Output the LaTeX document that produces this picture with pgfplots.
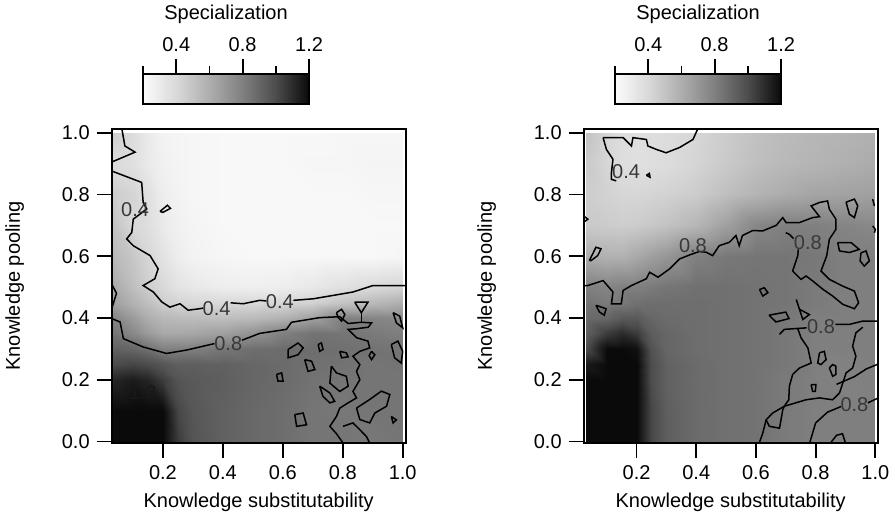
\documentclass[border=0pt]{standalone}
\usepackage{fontspec}
\setmainfont{Liberation Sans}
\usepackage{pgfplots}
\pgfplotsset{compat=1.18}

\tikzset{lab/.style={font=\normalsize, text=black!78, inner sep=0pt}}
\pgfplotsset{
  /pgf/number format/assume math mode=true,
  cnt/.style={black, line width=0.75pt, mark=none, forget plot},
  panel/.style={
    scale only axis, width=147pt, height=157pt,
    ymin=-0.005, ymax=1.012,
    axis on top,
    tick pos=left, tick align=outside, major tick length=7.5pt,
    xtick={0.2,0.4,0.6,0.8,1.0}, ytick={0,0.2,0.4,0.6,0.8,1.0},
    xticklabel style={/pgf/number format/.cd, fixed, fixed zerofill, precision=1},
    yticklabel style={/pgf/number format/.cd, fixed, fixed zerofill, precision=1},
    xlabel={Knowledge substitutability}, ylabel={Knowledge pooling},
    ylabel shift=12pt,
    axis line style={line width=1pt},
    every tick/.style={black, line width=0.9pt},
    colormap={spec}{gray(0cm)=(0.985) gray(0.2cm)=(0.85) gray(0.4cm)=(0.68) gray(0.6cm)=(0.5) gray(0.8cm)=(0.3) gray(1cm)=(0.04)},
    point meta min=0.2, point meta max=1.2,
    colorbar horizontal,
    colorbar style={
      at={(0.1066,1.0796)}, anchor=south west,
      scale only axis, width=83pt, height=15pt,
      xtick={0.4,0.8,1.2}, minor xtick={0.2,0.6,1.0},
      xtick pos=right, xticklabel pos=right,
      tick align=outside, major tick length=7.5pt, minor tick length=4pt,
      xticklabel style={/pgf/number format/.cd, fixed, fixed zerofill, precision=1},
      xlabel={Specialization},
      axis line style={line width=1pt},
      every tick/.style={black, line width=0.9pt},
    },
  },
}

\begin{document}
\begin{tikzpicture}
\useasboundingbox (-55.85pt,-38pt) rectangle (391.65pt,221.5pt);

% ---------------- left panel ----------------
\begin{axis}[panel, name=L, at={(0,0)}, anchor=south west, xmin=0.029, xmax=1.01]
\addplot[surf, shader=interp, mesh/cols=13, point meta=explicit]
  table[row sep=\\, meta=c] {
x y c\\
0.035 0 1.4\\ 0.1 0 1.4\\ 0.15 0 1.35\\ 0.2 0 1.25\\ 0.25 0 1.05\\ 0.3 0 0.97\\ 0.4 0 0.92\\ 0.5 0 0.89\\ 0.6 0 0.87\\ 0.7 0 0.84\\ 0.8 0 0.84\\ 0.9 0 0.83\\ 1.0 0 0.84\\
0.035 0.1 1.35\\ 0.1 0.1 1.35\\ 0.15 0.1 1.35\\ 0.2 0.1 1.22\\ 0.25 0.1 1.02\\ 0.3 0.1 0.96\\ 0.4 0.1 0.92\\ 0.5 0.1 0.89\\ 0.6 0.1 0.87\\ 0.7 0.1 0.84\\ 0.8 0.1 0.83\\ 0.9 0.1 0.84\\ 1.0 0.1 0.84\\
0.035 0.2 1.12\\ 0.1 0.2 1.15\\ 0.15 0.2 1.12\\ 0.2 0.2 1.05\\ 0.25 0.2 0.97\\ 0.3 0.2 0.95\\ 0.4 0.2 0.93\\ 0.5 0.2 0.9\\ 0.6 0.2 0.88\\ 0.7 0.2 0.85\\ 0.8 0.2 0.84\\ 0.9 0.2 0.84\\ 1.0 0.2 0.84\\
0.035 0.25 1.0\\ 0.1 0.25 1.02\\ 0.15 0.25 1.0\\ 0.2 0.25 0.96\\ 0.25 0.25 0.93\\ 0.3 0.25 0.93\\ 0.4 0.25 0.92\\ 0.5 0.25 0.9\\ 0.6 0.25 0.88\\ 0.7 0.25 0.86\\ 0.8 0.25 0.85\\ 0.9 0.25 0.84\\ 1.0 0.25 0.85\\
0.035 0.3 0.92\\ 0.1 0.3 0.9\\ 0.15 0.3 0.86\\ 0.2 0.3 0.8\\ 0.25 0.3 0.8\\ 0.3 0.3 0.8\\ 0.4 0.3 0.84\\ 0.5 0.3 0.87\\ 0.6 0.3 0.88\\ 0.7 0.3 0.87\\ 0.8 0.3 0.86\\ 0.9 0.3 0.85\\ 1.0 0.3 0.84\\
0.035 0.35 0.84\\ 0.1 0.35 0.76\\ 0.15 0.35 0.68\\ 0.2 0.35 0.62\\ 0.25 0.35 0.62\\ 0.3 0.35 0.63\\ 0.4 0.35 0.66\\ 0.5 0.35 0.72\\ 0.6 0.35 0.8\\ 0.7 0.35 0.85\\ 0.8 0.35 0.84\\ 0.9 0.35 0.82\\ 1.0 0.35 0.8\\
0.035 0.4 0.78\\ 0.1 0.4 0.68\\ 0.15 0.4 0.6\\ 0.2 0.4 0.55\\ 0.25 0.4 0.54\\ 0.3 0.4 0.53\\ 0.4 0.4 0.52\\ 0.5 0.4 0.54\\ 0.6 0.4 0.58\\ 0.7 0.4 0.66\\ 0.8 0.4 0.8\\ 0.9 0.4 0.78\\ 1.0 0.4 0.76\\
0.035 0.45 0.66\\ 0.1 0.45 0.58\\ 0.15 0.45 0.52\\ 0.2 0.45 0.45\\ 0.25 0.45 0.42\\ 0.3 0.45 0.41\\ 0.4 0.45 0.4\\ 0.5 0.45 0.4\\ 0.6 0.45 0.41\\ 0.7 0.45 0.44\\ 0.8 0.45 0.5\\ 0.9 0.45 0.55\\ 1.0 0.45 0.6\\
0.035 0.5 0.62\\ 0.1 0.5 0.52\\ 0.15 0.5 0.45\\ 0.2 0.5 0.4\\ 0.25 0.5 0.34\\ 0.3 0.5 0.31\\ 0.4 0.5 0.28\\ 0.5 0.5 0.27\\ 0.6 0.5 0.28\\ 0.7 0.5 0.31\\ 0.8 0.5 0.36\\ 0.9 0.5 0.39\\ 1.0 0.5 0.42\\
0.035 0.6 0.55\\ 0.1 0.6 0.48\\ 0.15 0.6 0.41\\ 0.2 0.6 0.34\\ 0.25 0.6 0.28\\ 0.3 0.6 0.25\\ 0.4 0.6 0.23\\ 0.5 0.6 0.22\\ 0.6 0.6 0.22\\ 0.7 0.6 0.22\\ 0.8 0.6 0.22\\ 0.9 0.6 0.22\\ 1.0 0.6 0.23\\
0.035 0.7 0.5\\ 0.1 0.7 0.4\\ 0.15 0.7 0.37\\ 0.2 0.7 0.3\\ 0.25 0.7 0.26\\ 0.3 0.7 0.24\\ 0.4 0.7 0.22\\ 0.5 0.7 0.22\\ 0.6 0.7 0.22\\ 0.7 0.7 0.22\\ 0.8 0.7 0.22\\ 0.9 0.7 0.22\\ 1.0 0.7 0.22\\
0.035 0.8 0.46\\ 0.1 0.8 0.42\\ 0.15 0.8 0.36\\ 0.2 0.8 0.28\\ 0.25 0.8 0.25\\ 0.3 0.8 0.23\\ 0.4 0.8 0.22\\ 0.5 0.8 0.22\\ 0.6 0.8 0.22\\ 0.7 0.8 0.22\\ 0.8 0.8 0.22\\ 0.9 0.8 0.23\\ 1.0 0.8 0.23\\
0.035 0.9 0.38\\ 0.1 0.9 0.36\\ 0.15 0.9 0.3\\ 0.2 0.9 0.26\\ 0.25 0.9 0.24\\ 0.3 0.9 0.23\\ 0.4 0.9 0.22\\ 0.5 0.9 0.22\\ 0.6 0.9 0.22\\ 0.7 0.9 0.23\\ 0.8 0.9 0.23\\ 0.9 0.9 0.24\\ 1.0 0.9 0.24\\
0.035 1.0 0.45\\ 0.1 1.0 0.38\\ 0.15 1.0 0.3\\ 0.2 1.0 0.25\\ 0.25 1.0 0.24\\ 0.3 1.0 0.23\\ 0.4 1.0 0.22\\ 0.5 1.0 0.22\\ 0.6 1.0 0.22\\ 0.7 1.0 0.22\\ 0.8 1.0 0.23\\ 0.9 1.0 0.23\\ 1.0 1.0 0.23\\
};
% contour 0.4
\addplot[cnt] coordinates {(0.029,0.876)(0.129,0.839)(0.134,0.774)(0.146,0.753)(0.101,0.720)(0.096,0.677)(0.079,0.656)(0.101,0.634)(0.157,0.602)(0.184,0.559)(0.173,0.527)(0.134,0.505)(0.168,0.484)(0.196,0.452)(0.223,0.435)(0.257,0.446)(0.284,0.425)(0.323,0.430)(0.334,0.432)};
\addplot[cnt] coordinates {(0.426,0.449)(0.468,0.446)(0.523,0.457)(0.545,0.455)};
\addplot[cnt] coordinates {(0.635,0.457)(0.701,0.462)(0.768,0.473)(0.834,0.484)(0.901,0.505)(1.01,0.505)};
\addplot[cnt] coordinates {(0.063,1.012)(0.073,0.957)(0.107,0.937)(0.029,0.905)};
\addplot[cnt] coordinates {(0.029,0.51)(0.045,0.48)(0.029,0.43)};
\addplot[cnt] coordinates {(0.19,0.745)(0.215,0.765)(0.225,0.755)(0.20,0.742)(0.19,0.745)};
% contour 0.8
\addplot[cnt] coordinates {(0.029,0.398)(0.057,0.387)(0.068,0.333)(0.134,0.306)(0.212,0.285)(0.279,0.296)(0.372,0.317)};
\addplot[cnt] coordinates {(0.464,0.328)(0.523,0.350)(0.612,0.363)(0.629,0.386)(0.723,0.401)(0.790,0.404)(0.818,0.382)(0.862,0.386)(0.896,0.384)(0.885,0.370)(0.845,0.365)(0.818,0.363)(0.846,0.336)(0.884,0.325)(0.890,0.303)(0.857,0.292)(0.834,0.276)(0.857,0.249)(0.846,0.227)(0.857,0.200)(0.834,0.162)(0.846,0.141)(0.818,0.125)(0.790,0.108)(0.779,0.081)(0.757,0.049)(0.779,0.025)(0.801,-0.005)};
\addplot[cnt] coordinates {(0.840,0.451)(0.884,0.451)(0.862,0.417)(0.840,0.451)};
\addplot[cnt] coordinates {(0.862,0.417)(0.862,0.386)};
\addplot[cnt] coordinates {(0.779,0.417)(0.796,0.428)(0.807,0.411)(0.796,0.390)(0.785,0.401)(0.779,0.417)};
\addplot[cnt] coordinates {(0.968,0.417)(0.990,0.406)(1.0,0.368)(0.979,0.384)(0.968,0.417)};
\addplot[cnt] coordinates {(0.962,0.314)(0.984,0.325)(1.0,0.292)(0.995,0.254)(0.973,0.271)(0.962,0.314)};
\addplot[cnt] coordinates {(0.618,0.298)(0.651,0.319)(0.668,0.303)(0.651,0.281)(0.618,0.271)(0.618,0.298)};
\addplot[cnt] coordinates {(0.718,0.314)(0.729,0.319)(0.734,0.298)(0.723,0.292)(0.718,0.314)};
\addplot[cnt] coordinates {(0.790,0.292)(0.812,0.287)(0.818,0.274)(0.796,0.271)(0.790,0.292)};
\addplot[cnt] coordinates {(0.896,0.292)(0.907,0.281)(0.896,0.265)(0.888,0.278)(0.896,0.292)};
\addplot[cnt] coordinates {(0.673,0.265)(0.696,0.260)(0.707,0.233)(0.684,0.227)(0.673,0.265)};
\addplot[cnt] coordinates {(0.762,0.244)(0.779,0.222)(0.812,0.211)(0.818,0.179)(0.790,0.162)(0.757,0.189)(0.762,0.244)};
\addplot[cnt] coordinates {(0.579,0.217)(0.596,0.222)(0.601,0.195)(0.584,0.195)(0.579,0.217)};
\addplot[cnt] coordinates {(0.723,0.179)(0.757,0.157)(0.773,0.130)(0.757,0.125)(0.734,0.146)(0.723,0.179)};
\addplot[cnt] coordinates {(0.640,0.087)(0.668,0.092)(0.679,0.054)(0.646,0.049)(0.640,0.087)};
\addplot[cnt] coordinates {(0.846,0.108)(0.890,0.136)(0.929,0.163)(0.957,0.152)(0.946,0.114)(0.907,0.092)(0.890,0.060)(0.857,0.071)(0.846,0.108)};
\addplot[cnt] coordinates {(0.962,0.081)(0.979,0.070)(0.968,0.060)(0.962,0.081)};
\addplot[cnt] coordinates {(0.801,0.049)(0.834,0.060)(0.857,0.038)(0.879,0.016)(0.890,-0.005)};
\node[lab] at (axis cs:0.107,0.752) {0.4};
\node[lab] at (axis cs:0.379,0.430) {0.4};
\node[lab] at (axis cs:0.590,0.452) {0.4};
\node[lab] at (axis cs:0.418,0.317) {0.8};
\node[lab, text=black!90] at (axis cs:0.133,0.158) {1.2};
\end{axis}

% ---------------- right panel ----------------
\begin{axis}[panel, name=R, at={(236pt,0)}, anchor=south west, xmin=0.023, xmax=1.008]
\addplot[surf, shader=interp, mesh/cols=13, point meta=explicit]
  table[row sep=\\, meta=c] {
x y c\\
0.03 0 1.4\\ 0.1 0 1.45\\ 0.15 0 1.45\\ 0.2 0 1.3\\ 0.25 0 1.02\\ 0.3 0 0.93\\ 0.4 0 0.88\\ 0.5 0 0.86\\ 0.6 0 0.85\\ 0.7 0 0.82\\ 0.8 0 0.8\\ 0.9 0 0.8\\ 0.998 0 0.8\\
0.03 0.1 1.35\\ 0.1 0.1 1.45\\ 0.15 0.1 1.45\\ 0.2 0.1 1.3\\ 0.25 0.1 1.02\\ 0.3 0.1 0.93\\ 0.4 0.1 0.88\\ 0.5 0.1 0.86\\ 0.6 0.1 0.85\\ 0.7 0.1 0.82\\ 0.8 0.1 0.8\\ 0.9 0.1 0.8\\ 0.998 0.1 0.8\\
0.03 0.2 1.25\\ 0.1 0.2 1.4\\ 0.15 0.2 1.4\\ 0.2 0.2 1.25\\ 0.25 0.2 1.0\\ 0.3 0.2 0.92\\ 0.4 0.2 0.88\\ 0.5 0.2 0.86\\ 0.6 0.2 0.85\\ 0.7 0.2 0.82\\ 0.8 0.2 0.8\\ 0.9 0.2 0.79\\ 0.998 0.2 0.8\\
0.03 0.25 1.15\\ 0.1 0.25 1.3\\ 0.15 0.25 1.35\\ 0.2 0.25 1.22\\ 0.25 0.25 1.0\\ 0.3 0.25 0.92\\ 0.4 0.25 0.88\\ 0.5 0.25 0.86\\ 0.6 0.25 0.85\\ 0.7 0.25 0.83\\ 0.8 0.25 0.8\\ 0.9 0.25 0.79\\ 0.998 0.25 0.8\\
0.03 0.3 1.0\\ 0.1 0.3 1.2\\ 0.15 0.3 1.25\\ 0.2 0.3 1.18\\ 0.25 0.3 0.98\\ 0.3 0.3 0.9\\ 0.4 0.3 0.87\\ 0.5 0.3 0.86\\ 0.6 0.3 0.85\\ 0.7 0.3 0.83\\ 0.8 0.3 0.8\\ 0.9 0.3 0.8\\ 0.998 0.3 0.8\\
0.03 0.35 0.92\\ 0.1 0.35 1.05\\ 0.15 0.35 1.1\\ 0.2 0.35 1.05\\ 0.25 0.35 0.94\\ 0.3 0.35 0.9\\ 0.4 0.35 0.87\\ 0.5 0.35 0.86\\ 0.6 0.35 0.85\\ 0.7 0.35 0.83\\ 0.8 0.35 0.8\\ 0.9 0.35 0.8\\ 0.998 0.35 0.8\\
0.03 0.4 0.88\\ 0.1 0.4 0.9\\ 0.15 0.4 0.95\\ 0.2 0.4 0.95\\ 0.25 0.4 0.9\\ 0.3 0.4 0.88\\ 0.4 0.4 0.87\\ 0.5 0.4 0.86\\ 0.6 0.4 0.85\\ 0.7 0.4 0.83\\ 0.8 0.4 0.8\\ 0.9 0.4 0.8\\ 0.998 0.4 0.8\\
0.03 0.45 0.85\\ 0.1 0.45 0.82\\ 0.15 0.45 0.83\\ 0.2 0.45 0.86\\ 0.25 0.45 0.87\\ 0.3 0.45 0.87\\ 0.4 0.45 0.87\\ 0.5 0.45 0.86\\ 0.6 0.45 0.85\\ 0.7 0.45 0.84\\ 0.8 0.45 0.82\\ 0.9 0.45 0.8\\ 0.998 0.45 0.8\\
0.03 0.5 0.8\\ 0.1 0.5 0.78\\ 0.15 0.5 0.8\\ 0.2 0.5 0.8\\ 0.25 0.5 0.82\\ 0.3 0.5 0.84\\ 0.4 0.5 0.86\\ 0.5 0.5 0.86\\ 0.6 0.5 0.85\\ 0.7 0.5 0.84\\ 0.8 0.5 0.82\\ 0.9 0.5 0.8\\ 0.998 0.5 0.8\\
0.03 0.6 0.6\\ 0.1 0.6 0.58\\ 0.15 0.6 0.58\\ 0.2 0.6 0.62\\ 0.25 0.6 0.66\\ 0.3 0.6 0.7\\ 0.4 0.6 0.8\\ 0.5 0.6 0.83\\ 0.6 0.6 0.84\\ 0.7 0.6 0.84\\ 0.8 0.6 0.83\\ 0.9 0.6 0.8\\ 0.998 0.6 0.8\\
0.03 0.7 0.47\\ 0.1 0.7 0.46\\ 0.15 0.7 0.45\\ 0.2 0.7 0.46\\ 0.25 0.7 0.48\\ 0.3 0.7 0.5\\ 0.4 0.7 0.56\\ 0.5 0.7 0.66\\ 0.6 0.7 0.77\\ 0.7 0.7 0.8\\ 0.8 0.7 0.8\\ 0.9 0.7 0.78\\ 0.998 0.7 0.76\\
0.03 0.8 0.45\\ 0.1 0.8 0.43\\ 0.15 0.8 0.41\\ 0.2 0.8 0.41\\ 0.25 0.8 0.42\\ 0.3 0.8 0.43\\ 0.4 0.8 0.46\\ 0.5 0.8 0.52\\ 0.6 0.8 0.57\\ 0.7 0.8 0.61\\ 0.8 0.8 0.64\\ 0.9 0.8 0.65\\ 0.998 0.8 0.66\\
0.03 0.9 0.47\\ 0.1 0.9 0.41\\ 0.15 0.9 0.37\\ 0.2 0.9 0.36\\ 0.25 0.9 0.37\\ 0.3 0.9 0.38\\ 0.4 0.9 0.42\\ 0.5 0.9 0.47\\ 0.6 0.9 0.52\\ 0.7 0.9 0.55\\ 0.8 0.9 0.57\\ 0.9 0.9 0.59\\ 0.998 0.9 0.61\\
0.03 1.0 0.5\\ 0.1 1.0 0.42\\ 0.15 1.0 0.38\\ 0.2 1.0 0.36\\ 0.25 1.0 0.37\\ 0.3 1.0 0.38\\ 0.4 1.0 0.41\\ 0.5 1.0 0.46\\ 0.6 1.0 0.51\\ 0.7 1.0 0.54\\ 0.8 1.0 0.56\\ 0.9 1.0 0.57\\ 0.998 1.0 0.59\\
};
% contour 0.4
\addplot[cnt] coordinates {(0.088,0.984)(0.155,0.984)(0.183,0.957)(0.188,0.984)(0.233,0.978)(0.238,0.957)(0.266,0.946)(0.299,0.935)(0.344,0.952)(0.389,0.978)(0.405,1.012)};
\addplot[cnt] coordinates {(0.088,0.984)(0.099,0.946)(0.121,0.914)(0.116,0.871)(0.116,0.849)(0.132,0.844)};
\addplot[cnt] coordinates {(0.233,0.862)(0.243,0.868)(0.245,0.856)(0.233,0.862)};
% contour 0.8
\addplot[cnt] coordinates {(0.023,0.505)(0.037,0.505)(0.088,0.521)(0.121,0.484)(0.116,0.446)(0.149,0.446)(0.155,0.489)(0.183,0.505)(0.233,0.527)(0.244,0.548)(0.272,0.532)(0.311,0.559)(0.344,0.591)(0.380,0.605)(0.410,0.615)(0.433,0.613)(0.455,0.602)(0.477,0.634)(0.511,0.645)(0.533,0.667)(0.544,0.634)(0.555,0.667)(0.589,0.683)(0.623,0.682)(0.668,0.700)(0.690,0.725)(0.701,0.709)(0.746,0.709)(0.790,0.725)(0.813,0.728)(0.785,0.763)(0.813,0.774)(0.840,0.779)(0.846,0.752)(0.868,0.720)(0.868,0.687)(0.846,0.655)(0.837,0.601)(0.818,0.552)(0.846,0.525)(0.891,0.503)(0.930,0.487)(0.944,0.449)(0.930,0.430)(0.891,0.444)(0.857,0.471)(0.824,0.493)(0.790,0.520)(0.768,0.536)(0.751,0.525)(0.723,0.552)(0.740,0.601)(0.742,0.622)};
\addplot[cnt] coordinates {(0.700,0.676)(0.712,0.671)(0.726,0.657)};
\addplot[cnt] coordinates {(0.902,0.775)(0.930,0.785)(0.941,0.763)(0.930,0.725)(0.913,0.736)(0.902,0.775)};
\addplot[cnt] coordinates {(0.874,0.644)(0.919,0.644)(0.946,0.622)(0.913,0.612)(0.880,0.617)(0.874,0.644)};
\addplot[cnt] coordinates {(0.952,0.611)(0.969,0.617)(0.980,0.585)(0.963,0.568)(0.949,0.585)(0.952,0.611)};
\addplot[cnt] coordinates {(0.612,0.492)(0.628,0.498)(0.640,0.482)(0.623,0.471)(0.612,0.492)};
\addplot[cnt] coordinates {(0.644,0.409)(0.700,0.419)(0.711,0.398)(0.667,0.387)(0.644,0.409)};
\addplot[cnt] coordinates {(0.042,0.586)(0.064,0.629)(0.081,0.624)(0.070,0.602)(0.048,0.586)(0.042,0.586)};
\addplot[cnt] coordinates {(0.064,0.441)(0.098,0.430)(0.092,0.409)(0.076,0.419)(0.064,0.441)};
\addplot[cnt] coordinates {(0.023,0.73)(0.037,0.72)(0.023,0.71)};
\addplot[cnt] coordinates {(0.991,0.785)(0.997,0.763)};
\addplot[cnt] coordinates {(0.991,0.698)(1.0,0.687)(0.997,0.676)};
\addplot[cnt] coordinates {(0.735,0.460)(0.746,0.428)(0.779,0.411)(0.757,0.395)(0.735,0.460)};
\addplot[cnt] coordinates {(0.679,0.347)(0.695,0.363)(0.770,0.368)};
\addplot[cnt] coordinates {(0.866,0.379)(0.913,0.379)(0.958,0.390)(1.008,0.390)};
\addplot[cnt] coordinates {(0.740,0.366)(0.751,0.336)(0.774,0.303)(0.785,0.254)(0.746,0.238)(0.723,0.217)(0.712,0.179)(0.710,0.135)(0.695,0.114)(0.656,0.092)(0.634,0.070)(0.623,0.027)(0.611,-0.005)};
\addplot[cnt] coordinates {(0.634,0.070)(0.645,0.049)(0.679,0.043)(0.690,0.103)(0.695,0.114)};
\addplot[cnt] coordinates {(0.695,0.114)(0.768,0.135)(0.813,0.141)(0.857,0.135)(0.880,0.157)(0.902,0.222)(0.924,0.238)(0.935,0.276)(0.924,0.309)(0.935,0.352)(0.958,0.370)};
\addplot[cnt] coordinates {(0.870,0.185)(0.930,0.210)(0.970,0.235)(1.008,0.250)};
\addplot[cnt] coordinates {(0.780,-0.005)(0.800,0.060)(0.840,0.095)(0.885,0.113)};
\addplot[cnt] coordinates {(0.975,0.125)(1.008,0.140)};
\addplot[cnt] coordinates {(0.850,-0.005)(0.870,0.020)(0.890,0.025)(0.900,-0.005)};
\addplot[cnt] coordinates {(0.813,0.287)(0.829,0.292)(0.835,0.265)(0.818,0.249)(0.807,0.254)(0.813,0.287)};
\addplot[cnt] coordinates {(0.846,0.238)(0.857,0.249)(0.868,0.244)(0.868,0.217)(0.857,0.211)(0.846,0.238)};
\addplot[cnt] coordinates {(0.785,0.184)(0.801,0.184)(0.799,0.162)(0.790,0.162)(0.785,0.184)};
\node[lab] at (axis cs:0.165,0.875) {0.4};
\node[lab] at (axis cs:0.389,0.634) {0.8};
\node[lab] at (axis cs:0.774,0.644) {0.8};
\node[lab] at (axis cs:0.818,0.372) {0.8};
\node[lab] at (axis cs:0.930,0.119) {0.8};
\end{axis}
\end{tikzpicture}
\end{document}
